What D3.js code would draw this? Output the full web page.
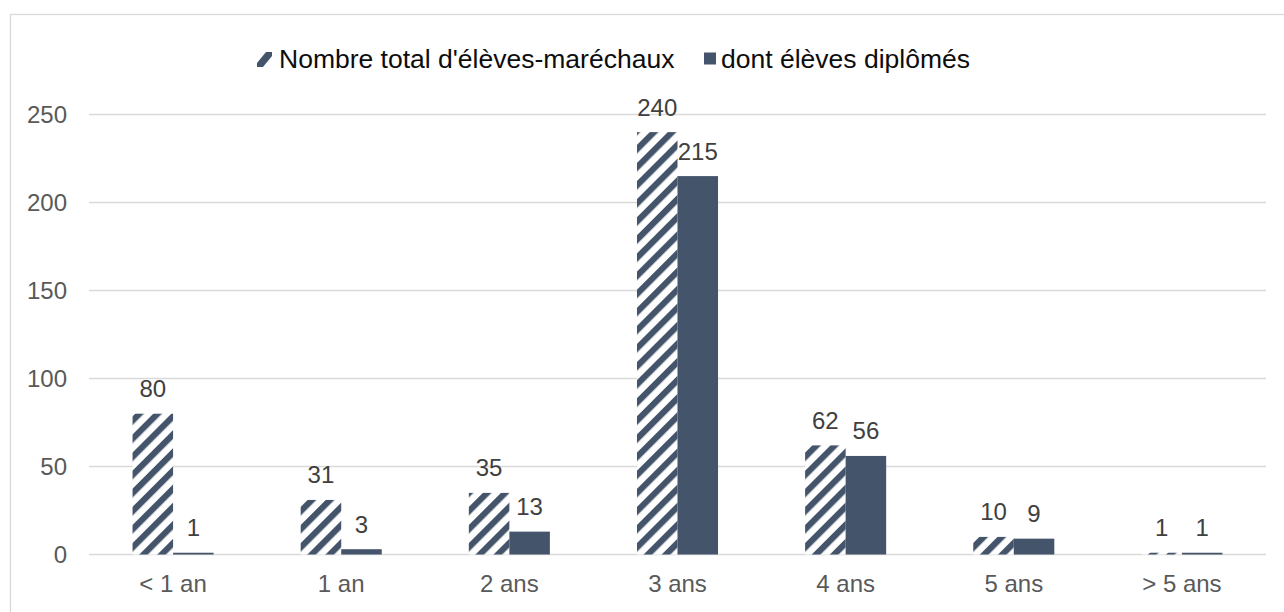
<!DOCTYPE html>
<html lang="fr">
  <head>
    <meta charset="UTF-8" />
    <title>Élèves-maréchaux</title>
    <style>
      body {
        margin: 0;
        background: #ffffff;
      }
      text {
        font-family: "Liberation Sans", Arial, sans-serif;
      }
    </style>
  </head>
  <script src="https://d3js.org/d3.v7.min.js"></script>

  <body>
    <div id="chart"></div>
  </body>
  <script>
    // Data
    const categories = ["< 1 an", "1 an", "2 ans", "3 ans", "4 ans", "5 ans", "> 5 ans"];
    const seriesNames = ["Nombre total d'élèves-maréchaux", "dont élèves diplômés"];
    const totalValues = [80, 31, 35, 240, 62, 10, 1];
    const diplomeValues = [1, 3, 13, 215, 56, 9, 1];
    const yTicks = [0, 50, 100, 150, 200, 250];

    const width = 1284,
      height = 612;
    const margin = { top: 114.5, right: 18, bottom: 57.5, left: 89 };
    const dark = "#44546a";

    const svg = d3
      .select("#chart")
      .append("svg")
      .attr("width", width)
      .attr("height", height);

    // hatched fill ("wide upward diagonal")
    const defs = svg.append("defs");
    const pattern = defs
      .append("pattern")
      .attr("id", "hatch")
      .attr("patternUnits", "userSpaceOnUse")
      .attr("width", 12.8)
      .attr("height", 12.8)
      .attr("patternTransform", "rotate(45)");
    pattern.append("rect").attr("width", 12.8).attr("height", 12.8).attr("fill", "#ffffff");
    pattern.append("rect").attr("width", 6.2).attr("height", 12.8).attr("fill", dark);

    // outer chart border
    svg
      .append("rect")
      .attr("x", 10.5)
      .attr("y", 14.5)
      .attr("width", width)
      .attr("height", height)
      .attr("fill", "none")
      .attr("stroke", "#d9d9d9")
      .attr("stroke-width", 1.3);

    // ----------------- //
    // Scales
    // ----------------- //
    const x0 = d3
      .scaleBand()
      .domain(categories)
      .range([margin.left, width - margin.right])
      .paddingInner(0.518)
      .paddingOuter(0.259);

    const x1 = d3.scaleBand().domain([0, 1]).range([0, x0.bandwidth()]);

    const y = d3
      .scaleLinear()
      .domain([0, 250])
      .range([height - margin.bottom, margin.top]);

    // gridlines
    svg
      .append("g")
      .selectAll("line")
      .data(yTicks)
      .join("line")
      .attr("x1", margin.left)
      .attr("x2", width - margin.right)
      .attr("y1", (d) => y(d))
      .attr("y2", (d) => y(d))
      .attr("stroke", "#d9d9d9")
      .attr("stroke-width", 1.3);

    // y axis labels
    const yAxis = d3.axisLeft(y).tickValues(yTicks).tickSize(0).tickPadding(22);
    svg
      .append("g")
      .attr("transform", `translate(${margin.left},0)`)
      .call(yAxis)
      .call((g) => g.select(".domain").remove())
      .selectAll("text")
      .attr("font-size", 24)
      .attr("font-family", "Liberation Sans, Arial, sans-serif")
      .attr("fill", "#595959");

    // x axis labels
    const xAxis = d3.axisBottom(x0).tickSize(0).tickPadding(20);
    svg
      .append("g")
      .attr("transform", `translate(0,${y(0)})`)
      .call(xAxis)
      .call((g) => g.select(".domain").remove())
      .selectAll("text")
      .attr("font-size", 24)
      .attr("font-family", "Liberation Sans, Arial, sans-serif")
      .attr("fill", "#595959");

    // ------------------------------- //
    // Bars
    // ------------------------------- //
    const rows = categories.map((c, i) => ({
      cat: c,
      values: [totalValues[i], diplomeValues[i]],
    }));

    const groups = svg
      .append("g")
      .selectAll("g")
      .data(rows)
      .join("g")
      .attr("transform", (d) => `translate(${x0(d.cat)},0)`);

    groups
      .selectAll("rect")
      .data((d) => d.values.map((v, k) => ({ v: v, k: k })))
      .join("rect")
      .attr("x", (d) => x1(d.k))
      .attr("y", (d) => y(d.v))
      .attr("width", x1.bandwidth())
      .attr("height", (d) => y(0) - y(d.v))
      .attr("fill", (d) => (d.k === 0 ? "url(#hatch)" : dark));

    // data labels
    groups
      .selectAll("text")
      .data((d) => d.values.map((v, k) => ({ v: v, k: k })))
      .join("text")
      .attr("x", (d) => x1(d.k) + x1.bandwidth() / 2)
      .attr("y", (d) => y(d.v) - 16.5)
      .attr("text-anchor", "middle")
      .attr("font-size", 24)
      .attr("fill", "#404040")
      .text((d) => d.v);

    // ------------------------------- //
    // Legend
    // ------------------------------- //
    const legend = svg.append("g").attr("transform", "translate(0,68)");

    legend
      .append("path")
      .attr("d", "M257,-1 L263,-1 L272,-12 L272,-16 L266,-16 L257,-5 Z")
      .attr("fill", dark);
    legend
      .append("text")
      .attr("x", 279)
      .attr("y", 0)
      .attr("font-size", 26.5)
      .attr("fill", "#0d0d0d")
      .text(seriesNames[0]);

    legend
      .append("rect")
      .attr("x", 704)
      .attr("y", -15.5)
      .attr("width", 12)
      .attr("height", 12)
      .attr("fill", dark);
    legend
      .append("text")
      .attr("x", 721)
      .attr("y", 0)
      .attr("font-size", 26.5)
      .attr("fill", "#0d0d0d")
      .text(seriesNames[1]);
  </script>
</html>
